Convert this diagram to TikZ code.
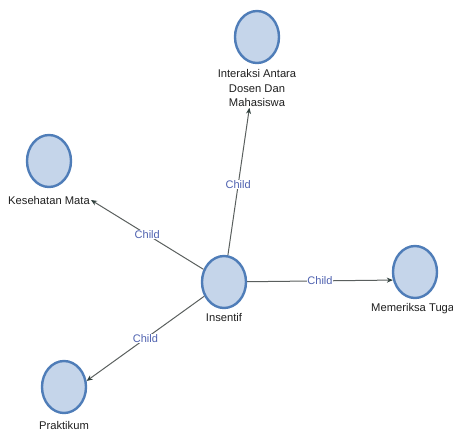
\documentclass[tikz,border=0pt]{standalone}
\usepackage{fontspec}
\setmainfont{Liberation Sans}
\usetikzlibrary{shapes.geometric,arrows.meta}
\definecolor{nodefill}{HTML}{C5D5EA}
\definecolor{nodeline}{HTML}{4F7DB8}
\definecolor{edgegray}{HTML}{5A5F5E}
\definecolor{tipcol}{HTML}{2F3F3C}
\definecolor{childblue}{HTML}{4F62B0}
\tikzset{
  circ/.style={ellipse, draw=nodeline, line width=2.4pt, fill=nodefill,
    minimum width=44pt, minimum height=52pt, inner sep=0pt},
  lbl/.style={font=\fontsize{11.2}{14.5}\selectfont, text=black!88, align=center, inner sep=1pt},
  rel/.style={draw=edgegray, line width=1pt,
    -{Stealth[length=6pt,width=5pt,color=tipcol]}},
  childlbl/.style={font=\fontsize{11}{12}\selectfont, text=childblue, fill=white, inner sep=0.5pt}
}
\begin{document}
\begin{tikzpicture}[x=1pt,y=-1pt]
\useasboundingbox (0,0) rectangle (453,432);
% nodes
\node[circ] (int) at (257,37) {};
\node[lbl] (intL) at (257,88) {Interaksi Antara\\Dosen Dan\\Mahasiswa};
\node[circ] (kes) at (49,161) {};
\node[lbl] (kesL) at (49,200) {Kesehatan Mata};
\node[circ] (ins) at (224,282) {};
\node[lbl] (insL) at (224,317) {Insentif};
\node[circ] (mem) at (415,272) {};
\node[lbl, anchor=west] (memL) at (370,309) {Memeriksa Tugas};
\node[circ] (prak) at (64,387) {};
\node[lbl] (prakL) at (64,425) {Praktikum};
% edges
\draw[rel] (ins) -- node[childlbl, pos=0.48] {Child} (intL.-111);
\draw[rel] (ins) -- node[childlbl, pos=0.5] {Child} (kesL.east);
\draw[rel] (ins) -- node[childlbl, pos=0.5] {Child} (mem.200);
\draw[rel] (ins) -- node[childlbl, pos=0.5] {Child} (prak.15);
\end{tikzpicture}
\end{document}
